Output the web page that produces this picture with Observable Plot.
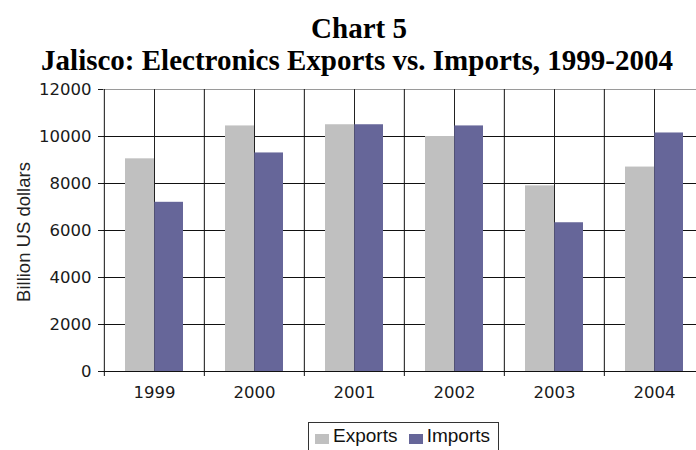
<!DOCTYPE html>
<html><head><meta charset="utf-8">
<script src="https://cdn.jsdelivr.net/npm/d3@7"></script>
<script src="https://cdn.jsdelivr.net/npm/@observablehq/plot@0.6"></script>
<style>
html,body{margin:0;padding:0;background:#fff;}
body{width:696px;height:450px;overflow:hidden;position:relative;}
.t{position:absolute;left:0;width:718px;text-align:center;font-family:"Liberation Serif","Times New Roman",serif;font-weight:bold;font-size:29px;line-height:33px;color:#000;white-space:nowrap;}
#chart{position:absolute;left:0;top:80px;width:712px;}
#chart svg{max-width:none !important;}
#ylab{position:absolute;left:23.5px;top:232px;transform:translate(-50%,-50%) rotate(-90deg);font-family:"Liberation Sans",Arial,sans-serif;font-size:18.5px;line-height:20px;white-space:nowrap;color:#222;}
#legend{position:absolute;left:308px;top:422px;width:189px;height:45px;border:1px solid #333;background:#fff;font-family:"Liberation Sans",Arial,sans-serif;font-size:19px;color:#111;}
#legend .sw{position:absolute;top:11px;width:14px;height:10px;}
#legend .lt{position:absolute;top:3px;line-height:20px;white-space:nowrap;}
</style>
</head><body>
<div class="t" id="t1" style="top:12px;"></div>
<div class="t" id="t2" style="top:44px;left:-2px;"></div>
<div id="chart"></div>
<div id="ylab"></div>
<div id="legend"></div>
<script>
const titleLine1 = "Chart 5";
const titleLine2 = "Jalisco: Electronics Exports vs. Imports, 1999-2004";
const yAxisTitle = "Billion US dollars";
const years = ["1999", "2000", "2001", "2002", "2003", "2004"];
const exportsVals = [9050, 10450, 10500, 10000, 7900, 8700];
const importsVals = [7200, 9300, 10500, 10450, 6330, 10150];
const seriesNames = ["Exports", "Imports"];
const seriesColors = ["#c0c0c0", "#666699"];

document.getElementById("t1").textContent = titleLine1;
document.getElementById("t2").textContent = titleLine2;
document.getElementById("ylab").textContent = yAxisTitle;

const rows = years.map((year, i) => ({year, exports: exportsVals[i], imports: importsVals[i]}));

const W = 712, ML = 103, MR = 7;
const band = (W - ML - MR) / years.length;

const chart = Plot.plot({
  width: W,
  height: 335,
  marginTop: 9,
  marginBottom: 44,
  marginLeft: ML,
  marginRight: MR,
  style: {fontFamily: "'DejaVu Sans', Verdana, sans-serif", fontSize: "16.5px", color: "#1a1a1a", background: "transparent", overflow: "visible", maxWidth: "none"},
  x: {domain: years, padding: 0, label: null, tickSize: 0, tickPadding: 15},
  y: {domain: [0, 12000], ticks: 6, label: null, tickSize: 5, tickPadding: 7, tickFormat: d => String(d)},
  marks: [
    Plot.ruleY([2000, 4000, 6000, 8000, 10000], {stroke: "#111"}),
    Plot.ruleY([12000], {stroke: "#9a9a9a"}),
    Plot.ruleX(years, {stroke: "#222"}),
    Plot.ruleX(years, {stroke: "#111", dx: -band / 2, insetBottom: -5}),
    Plot.barY(rows, {x: "year", y: "exports", fill: seriesColors[0], insetLeft: 21, insetRight: 50}),
    Plot.barY(rows, {x: "year", y: "imports", fill: seriesColors[1], insetLeft: 50.3, insetRight: 21}),
    Plot.ruleY([0], {stroke: "#111"})
  ]
});
chart.style.maxWidth = "none";
document.getElementById("chart").appendChild(chart);

const leg = document.getElementById("legend");
const legPos = [{sw: 6, tx: 24}, {sw: 100.3, tx: 117.7}];
seriesNames.forEach((name, i) => {
  const s = document.createElement("div");
  s.className = "sw";
  s.style.left = legPos[i].sw + "px";
  s.style.background = seriesColors[i];
  leg.appendChild(s);
  const t = document.createElement("div");
  t.className = "lt";
  t.style.left = legPos[i].tx + "px";
  t.textContent = name;
  leg.appendChild(t);
});
</script>
</body></html>
